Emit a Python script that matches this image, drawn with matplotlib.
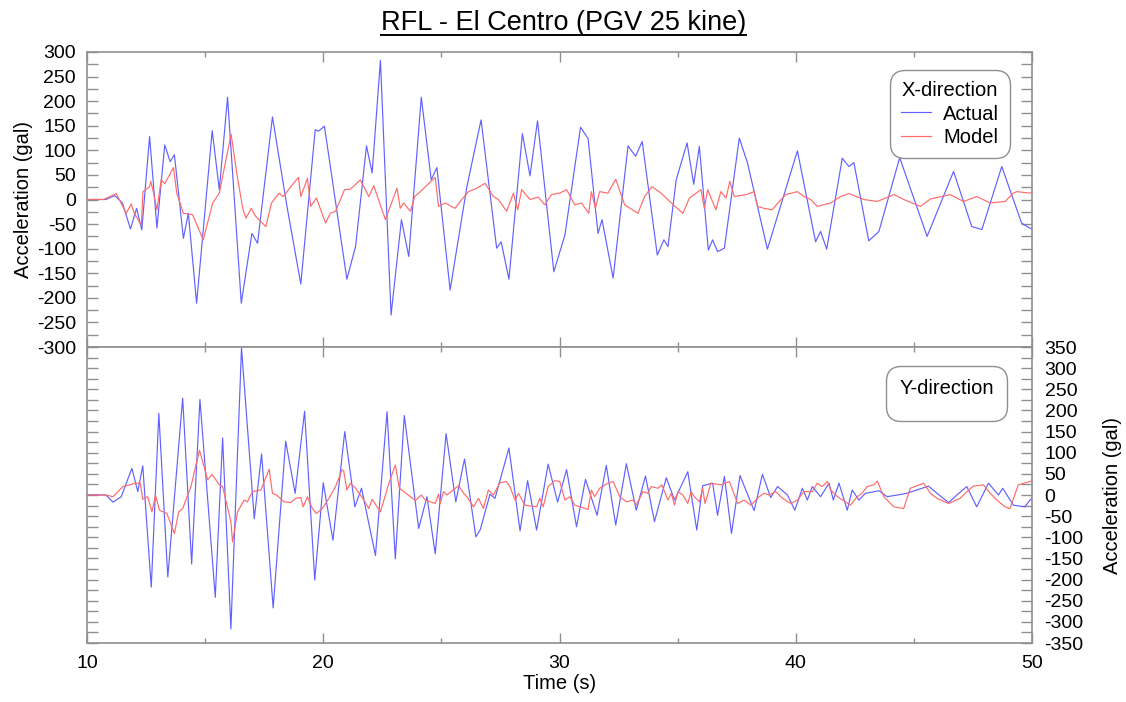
import matplotlib
matplotlib.use("Agg")
import matplotlib.pyplot as plt
from matplotlib.ticker import MultipleLocator
from matplotlib.lines import Line2D

plt.rcParams['font.family'] = ['Liberation Sans', 'DejaVu Sans']
plt.rcParams['axes.unicode_minus'] = False

# ---------------- data ----------------
x_actual_t = [10.0, 10.8, 11.17, 11.5, 11.84, 12.1, 12.32, 12.65, 12.96, 13.29, 13.52, 13.7,
              14.08, 14.29, 14.64, 15.3, 15.6, 15.95, 16.53, 16.98, 17.22, 17.85, 18.45, 19.05,
              19.66, 19.8, 20.05, 21.0, 21.37, 21.83, 22.07, 22.42, 22.87, 23.31, 23.62, 24.15,
              24.57, 24.81, 25.37, 26.08, 26.68, 27.34, 27.53, 27.86, 28.43, 28.75, 29.07, 29.76,
              30.23, 30.89, 31.21, 31.63, 31.8, 32.27, 32.9, 33.22, 33.5, 34.14, 34.42, 34.59,
              34.94, 35.4, 35.68, 35.92, 36.3, 36.48, 36.69, 36.98, 37.61, 37.96, 38.8, 40.07,
              40.84, 41.05, 41.31, 41.97, 42.25, 42.46, 43.09, 43.52, 44.4, 45.56, 46.68, 47.45,
              47.88, 48.72, 49.56, 49.9, 50.0]
x_actual_v = [0, 0, 8, -7, -60, -18, -62, 128, -58, 111, 77, 91,
              -79, -28, -211, 140, 20, 208, -211, -69, -89, 168, -10, -172,
              142, 139, 149, -162, -95, 109, 54, 283, -235, -41, -116, 208,
              40, 65, -184, 26, 162, -99, -86, -162, 134, 48, 160, -147,
              -72, 147, 124, -69, -41, -160, 109, 88, 118, -113, -82, -96,
              40, 115, 31, 108, -103, -82, -106, -99, 125, 74, -101, 99,
              -86, -65, -101, 84, 67, 75, -84, -65, 85, -75, 57, -55,
              -61, 67, -48, -58, -60]

x_model_t = [10.0, 10.7, 11.24, 11.66, 11.87, 12.0, 12.3, 12.37, 12.65, 12.7, 12.82, 12.96,
             13.14, 13.29, 13.66, 13.8, 14.08, 14.47, 14.92, 15.32, 15.6, 16.1, 16.35, 16.6,
             16.73, 16.95, 17.15, 17.57, 17.81, 18.13, 18.3, 18.81, 18.95, 19.05, 19.33, 19.47,
             19.71, 20.1, 20.3, 20.52, 20.9, 21.15, 21.57, 21.93, 22.14, 22.63, 23.12, 23.26,
             23.4, 23.69, 23.87, 24.11, 24.74, 24.88, 25.16, 25.58, 25.86, 26.15, 26.5, 26.85,
             27.2, 27.41, 27.76, 28.05, 28.23, 28.4, 28.75, 29.1, 29.38, 29.66, 30.01, 30.3,
             30.65, 30.93, 31.24, 31.35, 31.52, 31.7, 32.05, 32.38, 32.76, 33.32, 33.6, 33.91,
             34.3, 34.73, 35.22, 35.5, 35.99, 36.13, 36.27, 36.62, 36.83, 37.05, 37.21, 37.4,
             37.9, 38.24, 38.38, 38.66, 39.0, 39.3, 39.58, 40.07, 40.35, 40.63, 40.91, 41.48,
             41.9, 42.25, 42.88, 43.45, 44.15, 44.57, 45.27, 45.7, 46.54, 47.1, 47.66, 48.23,
             48.86, 49.21, 49.36, 49.9, 50.0]
x_model_v = [0, 0, 12, -28, -9, -28, -52, 16, 26, 37, 13, -21,
             40, 32, 65, 13, -28, -31, -82, -7, 13, 133, 50, -20,
             -38, -18, -35, -55, -7, 13, 6, 37, 45, 6, 43, -14,
             3, -48, -28, -24, 20, 21, 40, 6, 28, -41, 23, -18,
             -7, -24, 6, 16, 45, -14, -7, -18, 0, 16, 23, 33,
             6, 0, -24, 13, -21, 20, 0, 5, -11, 10, 13, 20,
             -11, -7, -28, 16, -18, 16, 13, 41, -11, -28, 6, 26,
             13, -7, -28, 3, 20, -18, 20, -21, 16, 3, 37, 6,
             10, 16, -14, -18, -21, -4, 10, 16, 6, 0, -14, -7,
             6, 12, 0, -4, 10, 0, -14, 1, 10, -4, 6, -7,
             -4, 13, 16, 13, 15]

y_actual_t = [10.0, 10.8, 11.1, 11.45, 11.9, 12.15, 12.36, 12.72, 13.04, 13.42, 14.05, 14.43,
              14.78, 15.43, 15.74, 16.09, 16.54, 17.08, 17.39, 17.88, 18.41, 18.81, 19.21, 19.64,
              20.0, 20.41, 20.91, 21.34, 21.62, 22.21, 22.7, 23.05, 23.43, 24.04, 24.39, 24.74,
              25.2, 25.61, 25.98, 26.46, 26.64, 27.06, 27.27, 27.86, 28.33, 28.65, 29.03, 29.52,
              29.92, 30.3, 30.72, 31.1, 31.59, 31.98, 32.38, 32.83, 33.25, 33.64, 34.02, 34.52,
              34.87, 35.43, 35.81, 36.06, 36.48, 36.69, 36.98, 37.28, 37.64, 38.24, 38.59, 38.94,
              39.23, 39.65, 39.96, 40.28, 40.49, 40.7, 41.05, 41.41, 41.59, 41.83, 42.18, 42.39,
              42.67, 42.95, 43.52, 43.87, 44.3, 44.7, 45.62, 45.98, 46.47, 46.82, 47.24, 47.66,
              48.16, 48.58, 48.76, 49.21, 49.7, 49.9, 50.0]
y_actual_v = [0, 0, -17, -4, 63, 8, 69, -218, 193, -194, 229, -163,
              226, -242, 135, -317, 348, -56, 97, -267, 127, 4, 198, -201,
              29, -107, 150, -28, 16, -143, 197, -151, 188, -79, -4, -139,
              145, -16, 85, -99, -83, 2, -8, 111, -85, 34, -83, 73,
              -17, 60, -75, 37, -48, 70, -71, 74, -36, 45, -63, 41,
              -12, 55, -83, 22, 28, -48, 44, -91, 46, -37, 49, -6,
              20, 0, -36, 16, -12, 20, -4, 28, -12, 28, -36, 12,
              -12, 4, 10, -4, 0, 4, 21, 4, -18, 0, 20, -28,
              28, 0, 16, -24, -28, -13, -8]

y_model_t = [10.0, 10.8, 11.1, 11.52, 11.94, 12.25, 12.36, 12.57, 12.75, 12.9, 13.07, 13.38,
             13.7, 13.88, 14.05, 14.4, 14.76, 15.11, 15.29, 15.6, 15.74, 16.09, 16.16, 16.37,
             16.65, 16.79, 17.0, 17.36, 17.71, 17.85, 18.02, 18.34, 18.62, 18.83, 19.05, 19.15,
             19.33, 19.54, 19.71, 19.96, 20.24, 20.52, 20.8, 20.87, 21.0, 21.15, 21.37, 21.72,
             21.93, 22.07, 22.42, 22.78, 23.05, 23.22, 23.69, 23.9, 24.15, 24.32, 24.74, 24.88,
             24.95, 25.09, 25.23, 25.73, 25.94, 26.08, 26.36, 26.57, 26.78, 26.99, 27.2, 27.48,
             27.76, 27.9, 28.12, 28.26, 28.54, 29.03, 29.17, 29.31, 29.52, 29.8, 30.01, 30.23,
             30.44, 30.65, 31.21, 31.35, 31.49, 31.7, 32.05, 32.27, 32.55, 32.83, 33.11, 33.25,
             33.53, 33.74, 33.88, 34.16, 34.33, 34.59, 34.73, 34.87, 35.01, 35.22, 35.43, 35.57,
             35.71, 35.92, 36.06, 36.16, 36.41, 36.83, 37.19, 37.54, 37.82, 38.1, 38.45, 38.66,
             38.87, 39.15, 39.44, 39.79, 40.07, 40.35, 40.7, 40.91, 41.12, 41.34, 41.48, 41.76,
             42.32, 42.6, 42.81, 43.02, 43.31, 43.45, 43.73, 44.15, 44.57, 44.85, 45.41, 45.7,
             45.98, 46.47, 46.96, 47.24, 47.52, 47.95, 48.23, 48.51, 48.86, 49.07, 49.42, 49.9,
             50.0]
y_model_v = [0, 0, -4, 20, 26, 29, -10, -4, -40, 0, -36, -44,
             -91, -40, -32, 20, 106, 36, 49, 24, 20, -63, -111, -40,
             -12, -16, 8, 12, 61, 4, 0, -16, -18, -8, -6, -28,
             -4, -32, -44, -32, -8, 20, 60, 56, 12, 28, 16, -12,
             -32, -10, -40, 28, 71, 16, -4, -13, 0, -12, -20, 2,
             -20, 8, 0, 22, 4, -4, -28, -8, -32, 12, 0, 29,
             32, 20, -12, 4, -24, -28, -8, -28, 20, 34, 32, -12,
             -4, -24, -34, 12, -4, 16, 28, 32, -4, -16, -12, -24,
             8, 4, 20, 16, 24, -12, 4, -24, 8, 0, -20, 8,
             -4, -16, 16, -20, 28, 24, 32, -20, -12, -24, -4, 4,
             0, 8, -8, -20, -12, 8, 8, 28, 20, 32, 12, -4,
             -24, -4, 4, 20, 24, 33, -4, -28, -32, 16, 28, 4,
             -8, -20, -8, 8, 21, 24, 4, -12, -28, -32, 24, 32,
             33]

x_ticks = [10, 20, 30, 40, 50]
top_yticks = list(range(-300, 301, 50))
bot_yticks = list(range(-350, 351, 50))

# ---------------- figure ----------------
W, H = 1126, 702
fig = plt.figure(figsize=(W / 100, H / 100), dpi=100)

L, R = 87, 1032
T1, M, B2 = 52, 347, 643
ax1 = fig.add_axes([L / W, 1 - M / H, (R - L) / W, (M - T1) / H])
ax2 = fig.add_axes([L / W, 1 - B2 / H, (R - L) / W, (B2 - M) / H], sharex=ax1)

blue = (0.38, 0.38, 1.0)
red = (1.0, 0.42, 0.42)
gray = '#8f8f8f'

ax1.plot(x_actual_t, x_actual_v, color=blue, lw=0.85, label='Actual')
ax1.plot(x_model_t, x_model_v, color=red, lw=0.85, label='Model')
ax2.plot(y_actual_t, y_actual_v, color=blue, lw=0.85)
ax2.plot(y_model_t, y_model_v, color=red, lw=0.85)

ax1.set_xlim(10, 50)
ax1.set_ylim(-300, 300)
ax2.set_ylim(-350, 350)

for ax in (ax1, ax2):
    ax.set_xticks(x_ticks)
    ax.xaxis.set_minor_locator(MultipleLocator(5))
    ax.yaxis.set_minor_locator(MultipleLocator(25))
    for sp in ax.spines.values():
        sp.set_color(gray)
        sp.set_linewidth(1.2)
    ax.tick_params(which='both', direction='in', top=True, bottom=True,
                   left=True, right=True, color=gray, width=1.0,
                   labelsize=14)
    ax.tick_params(axis='y', which='both', length=8)
    ax.tick_params(axis='x', which='major', length=7)
    ax.tick_params(axis='x', which='minor', length=3.5)

ax1.set_yticks(top_yticks)
ax2.set_yticks(bot_yticks)
ax1.tick_params(axis='x', labelbottom=False)
ax1.tick_params(axis='y', pad=8)
ax2.tick_params(axis='y', labelleft=False, labelright=True, pad=9)
ax2.tick_params(axis='x', pad=9)

ax1.set_ylabel('Acceleration (gal)', fontsize=14.5)
ax1.yaxis.set_label_coords((33 - L) / (R - L), 0.5)
ax2.set_ylabel('Acceleration (gal)', fontsize=14.5)
ax2.yaxis.set_label_position('right')
ax2.yaxis.set_label_coords((1103 - L) / (R - L), 0.5)
ax2.set_xlabel('Time (s)', fontsize=14.5, labelpad=1)

leg1 = ax1.legend(loc='upper right', bbox_to_anchor=(1 - 22 / (R - L), 1 - 18 / (M - T1)),
                  borderaxespad=0, title='X-direction', fontsize=14.5, title_fontsize=14.5,
                  frameon=True, fancybox=True, framealpha=1, edgecolor=gray,
                  handlelength=1.5, handletextpad=0.6, labelspacing=0.22, borderpad=0.55)
leg1.get_frame().set_boxstyle('round', pad=0, rounding_size=0.75)
leg1.get_frame().set_linewidth(1.0)

leg2 = ax2.legend(handles=[], labels=[], loc='upper right',
                  bbox_to_anchor=(1 - 25 / (R - L), 1 - 19 / (B2 - M)),
                  borderaxespad=0, title='Y-direction', fontsize=14.5, title_fontsize=14.5,
                  frameon=True, fancybox=True, framealpha=1, edgecolor=gray, borderpad=0.65)
leg2.get_frame().set_boxstyle('round', pad=0, rounding_size=0.75)
leg2.get_frame().set_linewidth(1.0)

title = fig.text(0.5004, 1 - 23 / H, 'RFL - El Centro (PGV 25 kine)', ha='center', va='center',
                 fontsize=19.5)

fig.canvas.draw()
bb = title.get_window_extent(fig.canvas.get_renderer())
uy = bb.y0 + 1.5
fig.add_artist(Line2D([bb.x0 / W, bb.x1 / W], [uy / H, uy / H], transform=fig.transFigure,
                      color='black', lw=1.4))

fig.savefig('out.png', dpi=100)
